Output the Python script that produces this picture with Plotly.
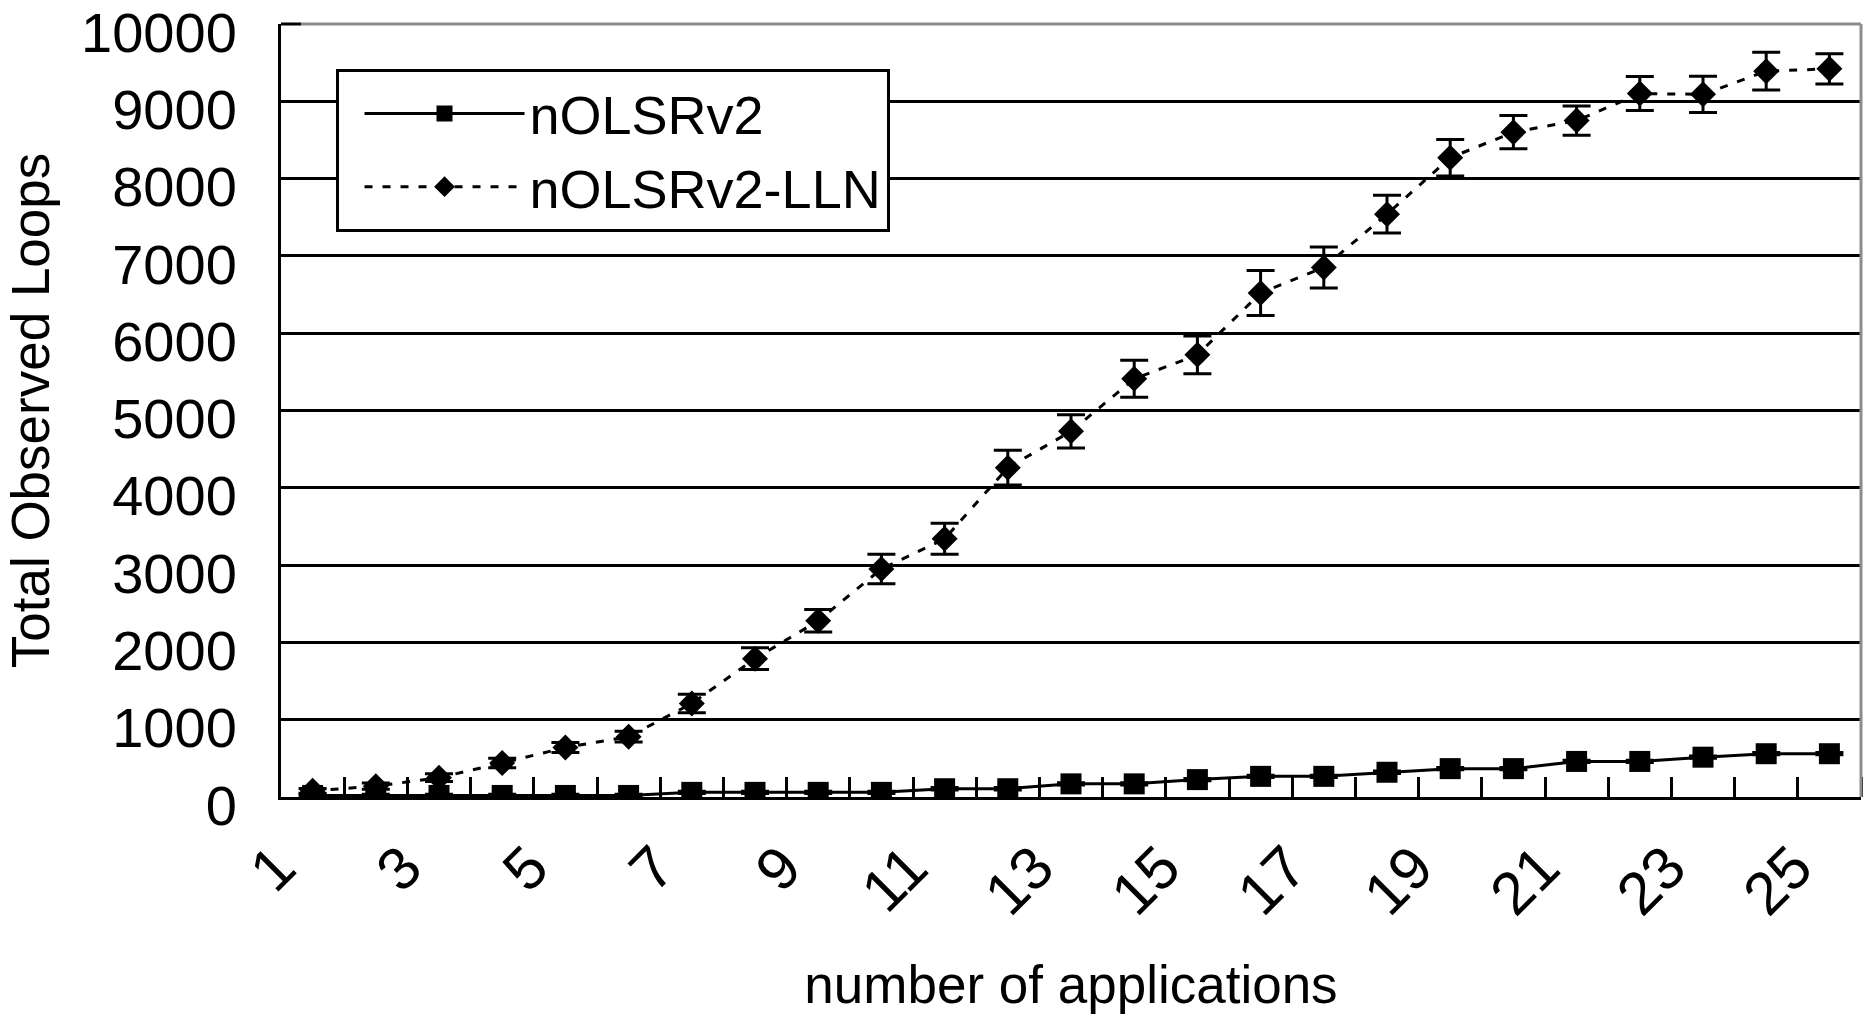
import plotly.graph_objects as go

# ---- data ----
applications = list(range(1, 26))
olsr = [20, 20, 20, 20, 20, 20, 60, 60, 60, 60, 107, 107, 170, 170, 225,
        267, 267, 320, 367, 367, 460, 460, 515, 560, 560]
olsr_err = [15] * 25
olsr_lln = [80, 140, 250, 440, 640, 780, 1210, 1790, 2280, 2950, 3340, 4260,
            4730, 5410, 5720, 6520, 6850, 7540, 8270, 8600, 8750, 9100, 9090,
            9390, 9420]
olsr_lln_err = [30, 40, 50, 60, 65, 70, 120, 140, 145, 190, 200, 225, 215,
                240, 245, 290, 265, 245, 235, 215, 190, 220, 235, 245, 195]
x_tick_labels = [str(a) for a in applications if a % 2 == 1]
y_ticks = list(range(0, 10001, 1000))
y_tick_labels = [str(v) for v in y_ticks]

FONT = "Liberation Sans, Arial, sans-serif"

fig = go.Figure()
fig.add_trace(go.Scatter(
    x=applications, y=olsr, name="nOLSRv2", mode="lines+markers",
    line=dict(color="black", width=3),
    marker=dict(symbol="square", size=21, color="black"),
    error_y=dict(type="data", array=olsr_err, visible=True, color="black",
                 thickness=3, width=14),
))
fig.add_trace(go.Scatter(
    x=applications, y=olsr_lln, name="nOLSRv2-LLN", mode="lines+markers",
    line=dict(color="black", width=3, dash="8px,10px"),
    marker=dict(symbol="diamond", size=20, color="black"),
    error_y=dict(type="data", array=olsr_lln_err, visible=True, color="black",
                 thickness=3, width=14),
))

fig.update_layout(
    width=1869, height=1014,
    margin=dict(l=281, r=8, t=24, b=217),
    paper_bgcolor="white", plot_bgcolor="white",
    font=dict(family=FONT, color="black", size=54),
    showlegend=True,
    legend=dict(
        x=0.0345, y=0.942, xanchor="left", yanchor="top",
        bgcolor="white", bordercolor="black", borderwidth=3,
        font=dict(size=54, family=FONT), itemwidth=160,
        indentation=21, tracegroupgap=0,
    ),
    xaxis=dict(
        range=[0.5, 25.5],
        automargin=False,
        tickmode="array",
        tickvals=[a for a in applications if a % 2 == 1],
        ticktext=x_tick_labels,
        tickangle=-45,
        ticks="",
        ticklabelstandoff=8,
        ticklabelshift=-35,
        tickfont=dict(size=60),
        showgrid=False, zeroline=False,
        showline=True, linecolor="black", linewidth=3,
        minor=dict(tickmode="array", tickvals=[a + 0.5 for a in applications],
                   ticks="inside", ticklen=20, tickwidth=3, tickcolor="black",
                   showgrid=False),
        title=dict(text="number of applications", font=dict(size=53), standoff=45),
    ),
    yaxis=dict(
        range=[0, 10000],
        automargin=False,
        tickmode="array", tickvals=y_ticks, ticktext=y_tick_labels,
        ticks="inside", ticklen=20, tickwidth=3, tickcolor="black",
        ticklabelstandoff=30,
        ticklabelshift=8,
        ticklabeloverflow="allow",
        tickfont=dict(size=56),
        showgrid=True, gridcolor="black", gridwidth=3,
        zeroline=False,
        showline=True, linecolor="black", linewidth=3,
        title=dict(text="Total Observed Loops", font=dict(size=53), standoff=15),
    ),
    shapes=[
        dict(type="line", xref="paper", yref="paper", x0=0.0127, x1=1, y0=1, y1=1,
             line=dict(color="#8c8c8c", width=3), layer="above"),
        dict(type="line", xref="paper", yref="paper", x0=0, x1=0.0127, y0=1, y1=1,
             line=dict(color="black", width=3), layer="above"),
        dict(type="line", xref="paper", yref="paper", x0=1, x1=1, y0=0, y1=1,
             line=dict(color="#8c8c8c", width=3), layer="above"),
    ],
)

fig.write_html("out.html",
               config={"displayModeBar": False},
               post_script="document.body.style.margin='0';document.body.style.overflow='hidden';")
